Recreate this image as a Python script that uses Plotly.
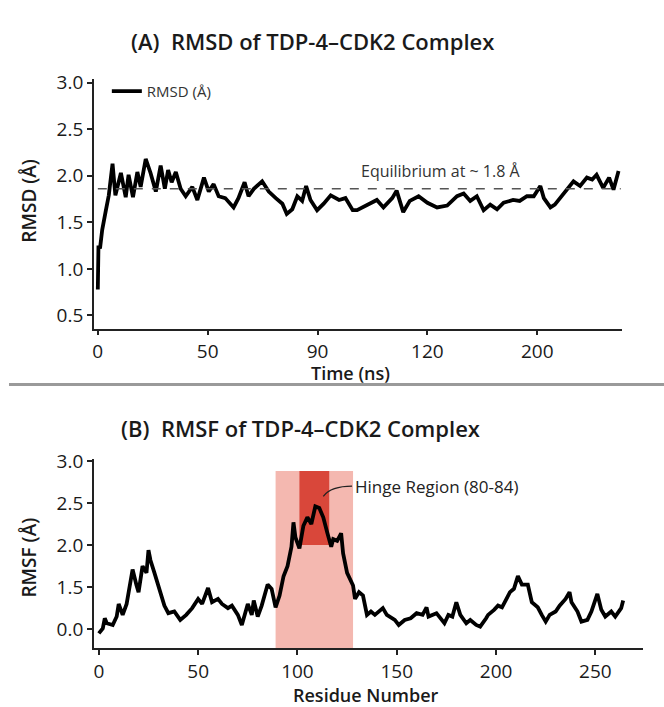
import plotly.graph_objects as go

# ---------------- data ----------------
TIME_NS = [0, 0.3, 1, 2, 3.6, 5, 6.7, 8, 10.5, 12.7,
           14, 16, 18, 19.5, 21.8, 24, 26.4, 28.6, 30.5, 32,
           33.6, 35.5, 37.7, 40, 43, 45.3, 48.3, 50.5, 52.7, 55,
           58, 61.8, 64, 66.8, 68.6, 71, 74.8, 77.8, 81, 84,
           86, 88.5, 90.8, 93, 94.8, 96.8, 99.8, 102.8, 106, 109.8,
           112.7, 116, 118, 122.6, 127, 130, 134, 136, 139, 142,
           146, 150, 154.4, 159, 163.5, 166.5, 169.5, 172.5, 175.6, 178.6,
           181.7, 184.7, 189, 192, 195.3, 198.4, 201.4, 203, 206, 208,
           212, 214, 216.5, 219.5, 222.6, 225, 227, 230, 232.7, 234.7,
           236.2, 237]
RMSD = [0.78, 1.25, 1.22, 1.42, 1.62, 1.79, 2.13, 1.79, 2.03, 1.77,
        2.01, 1.77, 2.04, 1.88, 2.18, 2.03, 1.83, 2.11, 1.86, 2.06,
        1.93, 2.04, 1.86, 1.78, 1.88, 1.74, 1.98, 1.83, 1.91, 1.78,
        1.76, 1.66, 1.76, 1.93, 1.78, 1.86, 1.94, 1.83, 1.76, 1.70,
        1.59, 1.64, 1.78, 1.73, 1.89, 1.74, 1.63, 1.70, 1.79, 1.74,
        1.76, 1.63, 1.63, 1.69, 1.74, 1.66, 1.76, 1.84, 1.61, 1.73,
        1.78, 1.71, 1.66, 1.68, 1.78, 1.81, 1.73, 1.78, 1.63, 1.69,
        1.64, 1.71, 1.74, 1.73, 1.78, 1.78, 1.89, 1.76, 1.66, 1.69,
        1.81, 1.86, 1.94, 1.89, 1.98, 1.96, 2.01, 1.87, 1.98, 1.85,
        1.96, 2.05]
EQUILIBRIUM = 1.86

TIME_TICKS = [0, 50, 100, 150, 200]
TIME_TICK_TEXT = ["0", "50", "90", "120", "200"]
RMSD_TICKS = [0.5, 1.0, 1.5, 2.0, 2.5, 3.0]
RMSD_TICK_TEXT = ["0.5", "1.0", "1.5", "2.0", "2.5", "3.0"]

RESIDUE = [0, 2, 3, 4, 7, 9, 10, 12, 14, 17,
           19, 20, 22, 24, 25, 26, 28, 30, 33, 35,
           38, 41, 44, 47, 50, 52, 55, 57, 60, 62,
           65, 67, 70, 72, 75, 77, 78, 80, 82, 85,
           87, 89, 91, 93, 95, 97, 98, 99, 101, 103,
           105, 107, 109, 111, 113, 115, 117, 118, 120, 122,
           123, 125, 128, 129, 131, 133, 135, 137, 139, 143,
           145, 149, 151, 154, 157, 160, 163, 165, 166, 170,
           172, 174, 176, 178, 180, 182, 185, 187, 190, 192,
           195, 196, 199, 201, 203, 205, 207, 209, 211, 213,
           216, 218, 221, 223, 225, 227, 230, 232, 235, 237,
           238, 241, 243, 246, 248, 251, 253, 255, 258, 260,
           263, 264]
RMSF = [0.95, 1.01, 1.13, 1.07, 1.05, 1.15, 1.30, 1.17, 1.30, 1.71,
        1.52, 1.44, 1.75, 1.67, 1.94, 1.82, 1.67, 1.52, 1.28, 1.19,
        1.21, 1.11, 1.17, 1.25, 1.36, 1.30, 1.49, 1.32, 1.36, 1.30,
        1.25, 1.28, 1.17, 1.05, 1.30, 1.17, 1.34, 1.15, 1.28, 1.53,
        1.48, 1.26, 1.40, 1.63, 1.75, 1.98, 2.27, 2.09, 1.96, 2.23,
        2.33, 2.25, 2.46, 2.44, 2.33, 2.15, 1.98, 2.07, 2.05, 2.14,
        1.90, 1.67, 1.52, 1.36, 1.44, 1.40, 1.17, 1.21, 1.17, 1.25,
        1.17, 1.11, 1.05, 1.11, 1.13, 1.19, 1.17, 1.26, 1.15, 1.19,
        1.13, 1.07, 1.17, 1.15, 1.32, 1.17, 1.07, 1.11, 1.05, 1.03,
        1.13, 1.17, 1.23, 1.28, 1.26, 1.34, 1.44, 1.48, 1.63, 1.53,
        1.53, 1.32, 1.26, 1.17, 1.09, 1.17, 1.21, 1.28, 1.36, 1.44,
        1.32, 1.21, 1.09, 1.11, 1.21, 1.42, 1.23, 1.15, 1.21, 1.15,
        1.25, 1.34]

RES_TICKS = [0, 50, 100, 150, 200, 250]
RMSF_TICKS = [1.0, 1.5, 2.0, 2.5, 3.0]
RMSF_TICK_TEXT = ["0.0", "1.5", "2.0", "2.5", "3.0"]

REGION_WIDE = [89, 128]      # light band (residues)
REGION_HINGE = [101, 116]    # dark band (residues)
REGION_TOP = 2.88
HINGE_BOTTOM = 2.0

# ---------------- figure ----------------
W, H = 664, 707
FONT = "Open Sans"
INK = "#1a1a1a"

fig = go.Figure()

fig.add_trace(go.Scatter(
    x=TIME_NS, y=RMSD, mode="lines", name="RMSD (Å)",
    line=dict(color="black", width=3.8), xaxis="x", yaxis="y",
    showlegend=True))

fig.add_trace(go.Scatter(
    x=RESIDUE, y=RMSF, mode="lines", name="RMSF",
    line=dict(color="black", width=3.8), xaxis="x2", yaxis="y2",
    showlegend=False))

def px_x(p):
    return p / W

def px_y(p):
    return 1 - p / H

axis_common = dict(
    showline=True, linecolor="#222", linewidth=1.5,
    ticks="outside", ticklen=5, tickwidth=1.5, tickcolor="#222",
    showgrid=False, zeroline=False,
    tickfont=dict(family=FONT, size=19, color=INK),
)

fig.update_layout(
    width=W, height=H,
    margin=dict(l=0, r=0, t=0, b=0),
    paper_bgcolor="white", plot_bgcolor="white",
    font=dict(family=FONT, color=INK),
    xaxis=dict(domain=[px_x(93), px_x(622)], range=[-1.8, 238.6],
               tickvals=TIME_TICKS, ticktext=TIME_TICK_TEXT,
               anchor="y", **axis_common),
    yaxis=dict(domain=[px_y(322), px_y(68)], range=[0.36, 3.04],
               tickvals=RMSD_TICKS, ticktext=RMSD_TICK_TEXT,
               anchor="x", **axis_common),
    xaxis2=dict(domain=[px_x(93), px_x(643)], range=[-2.5, 274],
                tickvals=RES_TICKS, anchor="y2", **axis_common),
    yaxis2=dict(domain=[px_y(647), px_y(455)], range=[0.776, 3.02],
                tickvals=RMSF_TICKS, ticktext=RMSF_TICK_TEXT,
                anchor="x2", **axis_common),
    legend=dict(x=px_x(106), y=px_y(64), xanchor="left", yanchor="top",
                bgcolor="rgba(0,0,0,0)", itemwidth=30,
                font=dict(family=FONT, size=15, color="#333")),
)

# highlighted regions (behind the line)
fig.add_shape(type="rect", xref="x2", yref="y2",
              x0=REGION_WIDE[0], x1=REGION_WIDE[1], y0=0.776, y1=REGION_TOP,
              fillcolor="#f4b8b0", line=dict(width=0), layer="below")
fig.add_shape(type="rect", xref="x2", yref="y2",
              x0=REGION_HINGE[0], x1=REGION_HINGE[1], y0=HINGE_BOTTOM, y1=REGION_TOP,
              fillcolor="#d9473a", line=dict(width=0), layer="below")

# equilibrium dashed line
fig.add_shape(type="line", xref="x", yref="y",
              x0=0, x1=238, y0=EQUILIBRIUM, y1=EQUILIBRIUM,
              line=dict(color="#555", width=1.5, dash="dash"))

# separator
fig.add_shape(type="line", xref="paper", yref="paper",
              x0=px_x(8), x1=1, y0=px_y(379), y1=px_y(379),
              line=dict(color="#9a9a9a", width=3))

# hinge connector
fig.add_shape(type="path", xref="x2", yref="y2",
              path="M 113,2.58 Q 117,2.70 127.5,2.70",
              line=dict(color="#222", width=1.3))

annots = [
    dict(text="(A)  RMSD of TDP-4–CDK2 Complex", x=px_x(312), y=px_y(30),
         font=dict(size=22, color=INK, family=FONT, weight=600), xanchor="center", yanchor="middle"),
    dict(text="(B)  RMSF of TDP-4–CDK2 Complex", x=px_x(300), y=px_y(423),
         font=dict(size=22, color=INK, family=FONT, weight=600), xanchor="center", yanchor="middle"),
    dict(text="Time (ns)", x=px_x(350), y=px_y(367),
         font=dict(size=18, color=INK, family=FONT, weight=600), xanchor="center", yanchor="middle"),
    dict(text="Residue Number", x=px_x(366), y=px_y(695),
         font=dict(size=18, color=INK, family=FONT, weight=600), xanchor="center", yanchor="middle"),
    dict(text="RMSD (Å)", x=px_x(28), y=px_y(192), textangle=-90,
         font=dict(size=19, color=INK, family=FONT, weight=600), xanchor="center", yanchor="middle"),
    dict(text="RMSF (Å)", x=px_x(28), y=px_y(555), textangle=-90,
         font=dict(size=19, color=INK, family=FONT, weight=600), xanchor="center", yanchor="middle"),
]
for a in annots:
    fig.add_annotation(xref="paper", yref="paper", showarrow=False, **a)

fig.add_annotation(xref="x", yref="y", x=156, y=2.05, text="Equilibrium at ~ 1.8 Å",
                   showarrow=False, xanchor="center", yanchor="middle",
                   font=dict(size=16, color="#333", family=FONT))
fig.add_annotation(xref="x2", yref="y2", x=128, y=2.70, text="Hinge Region (80-84)",
                   showarrow=False, xanchor="left", yanchor="middle",
                   font=dict(size=17, color="#222", family=FONT))

fig.write_html("out.html", config={"displayModeBar": False},
               post_script="document.body.style.margin='0';document.body.style.padding='0';")
